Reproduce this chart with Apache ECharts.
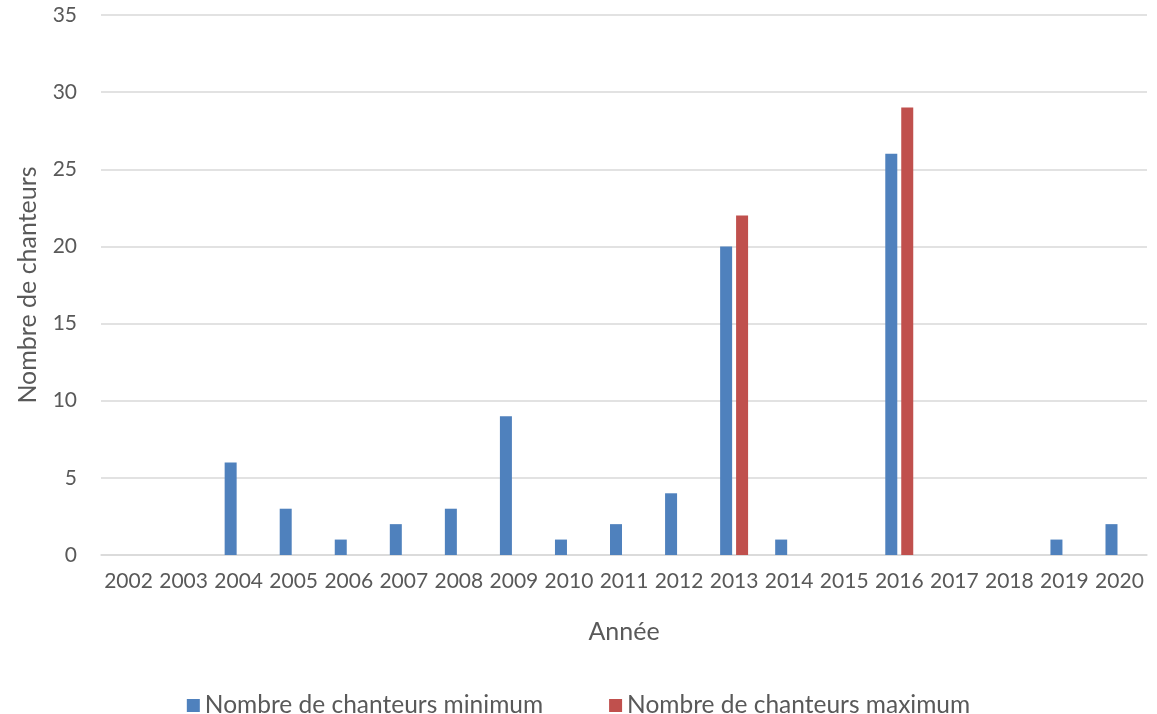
<!DOCTYPE html>
<html>
<head>
<meta charset="utf-8">
<script src="https://cdn.jsdelivr.net/npm/echarts@6/dist/echarts.min.js"></script>
<style>
  html, body { margin: 0; padding: 0; background: #ffffff; }
  #chart { width: 1157px; height: 714px; }
</style>
</head>
<body>
<div id="chart"></div>
<script>
// Years on the horizontal axis
const years = ['2002','2003','2004','2005','2006','2007','2008','2009','2010','2011',
               '2012','2013','2014','2015','2016','2017','2018','2019','2020'];
// Minimum number of singers counted each year
const minSingers = [0, 0, 6, 3, 1, 2, 3, 9, 1, 2, 4, 20, 1, 0, 26, 0, 0, 1, 2];
// Maximum number of singers counted each year
const maxSingers = [0, 0, 0, 0, 0, 0, 0, 0, 0, 0, 0, 22, 0, 0, 29, 0, 0, 0, 0];

const seriesNames = ['Nombre de chanteurs minimum', 'Nombre de chanteurs maximum'];
const FONT = 'Lato, "Open Sans", sans-serif';

const chart = echarts.init(document.getElementById('chart'), null, { renderer: 'canvas' });
chart.setOption({
  animation: false,
  textStyle: { fontFamily: FONT },
  grid: { left: 101, right: 10, top: 15, bottom: 159, containLabel: false },
  legend: {
    top: 688,
    left: 'center',
    itemWidth: 13,
    itemHeight: 13,
    itemGap: 66,
    icon: 'rect',
    textStyle: { fontSize: 24.5, color: '#595959', fontFamily: FONT },
    data: seriesNames
  },
  xAxis: {
    type: 'category',
    data: years,
    name: 'Année',
    nameLocation: 'middle',
    nameGap: 64,
    nameTextStyle: { fontSize: 25, color: '#595959' },
    axisLine: { lineStyle: { color: '#d9d9d9', width: 1.5 } },
    axisTick: { show: false },
    axisLabel: { fontSize: 21, color: '#595959', margin: 16, interval: 0 }
  },
  yAxis: {
    type: 'value',
    min: 0,
    max: 35,
    interval: 5,
    name: 'Nombre de chanteurs',
    nameLocation: 'middle',
    nameGap: 61,
    nameTextStyle: { fontSize: 25, color: '#595959' },
    axisLine: { show: false },
    axisTick: { show: false },
    axisLabel: { fontSize: 21, color: '#595959', margin: 24 },
    splitLine: { lineStyle: { color: '#d9d9d9', width: 1.5 } }
  },
  series: [
    {
      name: seriesNames[0],
      type: 'bar',
      data: minSingers,
      barWidth: 12,
      barGap: '33%',
      itemStyle: { color: '#4f81bd' }
    },
    {
      name: seriesNames[1],
      type: 'bar',
      data: maxSingers,
      barWidth: 12,
      itemStyle: { color: '#c0504d' }
    }
  ]
});
</script>
</body>
</html>
